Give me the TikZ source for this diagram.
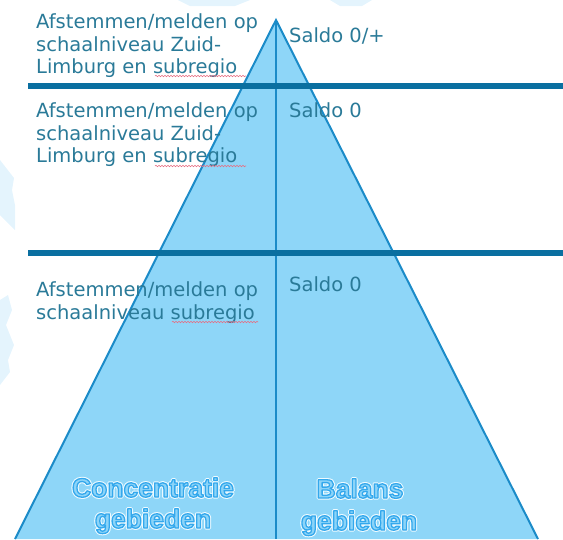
\documentclass[tikz,border=0pt]{standalone}
\usepackage{fontspec}
\setmainfont{DejaVu Sans}
\newfontfamily\labelfont{Liberation Sans}
\usetikzlibrary{decorations.pathmorphing}
\definecolor{trifill}{RGB}{142,214,248}
\definecolor{triline}{RGB}{27,139,200}
\definecolor{barline}{RGB}{10,111,160}
\definecolor{txtcol}{RGB}{42,122,152}
\definecolor{glowfill}{RGB}{140,212,248}
\definecolor{faint}{RGB}{228,244,253}
\definecolor{spell}{RGB}{230,110,130}
\newcommand{\glowtxt}[1]{\rlap{\color{white}\special{pdf:literal direct q 2 Tr 3.4 w 0.93 0.98 1 RG 1 j}#1\special{pdf:literal direct Q}}{\color{glowfill}\special{pdf:literal direct q 2 Tr 1.3 w 0.2 0.66 0.93 RG 1 j}#1\special{pdf:literal direct Q}}}
\tikzset{
  lefttext/.style={anchor=north west, inner sep=0pt, align=left, text=txtcol,
    font=\fontsize{19.5}{22.5}\selectfont},
  saldotext/.style={anchor=base west, inner sep=0pt, text=txtcol,
    font=\fontsize{19.5}{22.5}\selectfont},
  glowlabel/.style={anchor=base, inner sep=0pt, font=\labelfont\bfseries\fontsize{26.5}{30}\selectfont},
  bar/.style={draw=barline, line width=6pt},
  triedge/.style={draw=triline, line width=2pt},
  spellmark/.style={draw=spell, line width=0.6pt, decorate,
    decoration={snake, amplitude=0.7pt, segment length=3pt}}
}
\begin{document}
\begin{tikzpicture}[x=1pt,y=-1pt]
\useasboundingbox (0,0) rectangle (563,539);
% faint background artefacts
\fill[faint] (0,160) -- (14,178) -- (12,190) -- (15,205) -- (15,230) -- (0,215) -- cycle;
\fill[faint] (0,300) -- (8,295) -- (12,310) -- (6,325) -- (14,345) -- (8,360) -- (10,372) -- (0,385) -- cycle;
\fill[faint] (178,0) -- (250,0) -- (235,6) -- (190,6) -- cycle;
\fill[faint] (330,0) -- (372,0) -- (362,6) -- (340,6) -- cycle;
% coordinates
\coordinate (apex) at (276,20);
\coordinate (bl) at (15,539);
\coordinate (br) at (538,539);
\coordinate (bm) at (276,539);
% triangle
\fill[trifill] (apex) -- (bl) -- (br) -- cycle;
\draw[triedge] (bl) -- (apex) -- (br);
\draw[draw=triline, line width=1.6pt] (apex) -- (bm);
% bars
\coordinate (b1l) at (28,86); \coordinate (b1r) at (563,86);
\coordinate (b2l) at (28,253); \coordinate (b2r) at (563,253);
\draw[bar] (b1l) -- (b1r);
\draw[bar] (b2l) -- (b2r);
% left texts
\node[lefttext] (t1) at (36,13.5) {Afstemmen/melden op\\schaalniveau Zuid-\\Limburg en subregio};
\node[lefttext] (t2) at (36,102.5) {Afstemmen/melden op\\schaalniveau Zuid-\\Limburg en subregio};
\node[lefttext] (t3) at (36,281.5) {Afstemmen/melden op\\schaalniveau subregio};
% spell-check underlines
\draw[spellmark] (155,76) -- (246,76);
\draw[spellmark] (155,166) -- (246,166);
\draw[spellmark] (172,322) -- (258,322);
% saldo texts
\node[saldotext] (s1) at (289,42) {Saldo 0/+};
\node[saldotext] (s2) at (289,117) {Saldo 0};
\node[saldotext] (s3) at (289,291) {Saldo 0};
% bottom labels
\node[glowlabel] (c1) at (153,497) {\glowtxt{Concentratie}};
\node[glowlabel] (c2) at (153,528) {\glowtxt{gebieden}};
\node[glowlabel] (b1) at (360,498) {\glowtxt{Balans}};
\node[glowlabel] (b2) at (359,530) {\glowtxt{gebieden}};
\end{tikzpicture}
\end{document}
